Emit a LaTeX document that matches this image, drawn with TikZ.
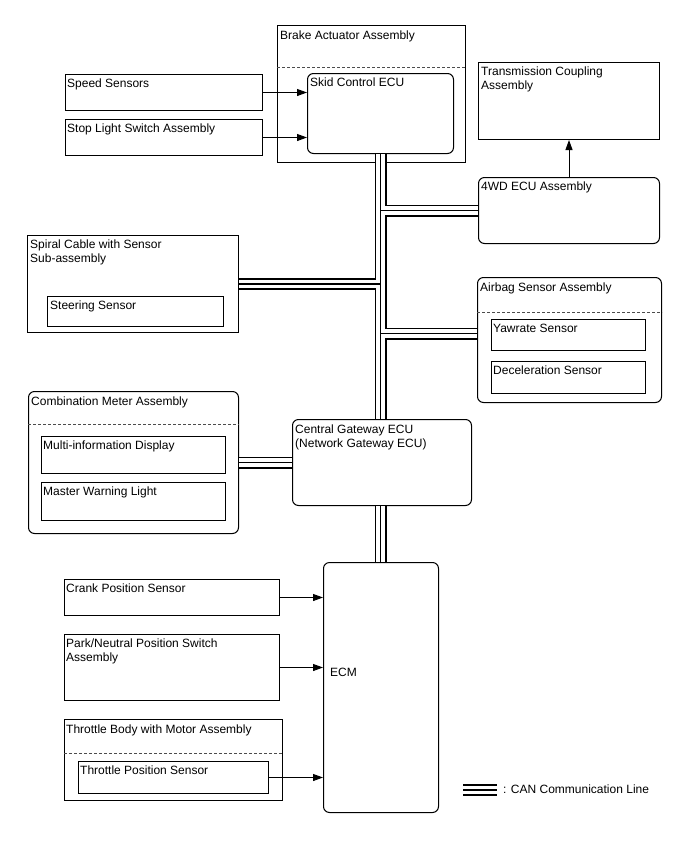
\documentclass[tikz,border=0pt]{standalone}
\usepackage{fontspec}
\setmainfont{Liberation Sans}
\usepackage{tikz}
\usetikzlibrary{arrows.meta,positioning}

\begin{document}
\begin{tikzpicture}[
    x=1pt, y=-1pt,
    blk/.style={draw, line width=1pt, anchor=north west, inner sep=0pt},
    rblk/.style={blk, rounded corners=6pt},
    lbl/.style={anchor=north west, inner sep=0pt, align=left, font=\fontsize{12}{14}\selectfont},
    dsh/.style={line width=0.8pt, black!70, dash pattern=on 3pt off 2pt},
    sig/.style={line width=1pt, -{Triangle[length=10pt,width=7pt]}},
    canA/.style={line width=12pt},
    canB/.style={line width=8.4pt, white},
    canC/.style={line width=1.3pt}]
  \useasboundingbox (0,0) rectangle (688,852);

  % brake actuator and its inputs
  \node[blk, minimum width=188, minimum height=137] (brake) at (277,25) {};
  \node[lbl] (brakelbl) at ([shift={(3,6)}]brake.north west) {Brake Actuator Assembly};
  \draw[dsh] (brake.west |- 0,67) -- (brake.east |- 0,67);
  \node[rblk, minimum width=146, minimum height=80] (skid) at (307,73) {};
  \node[lbl] (skidlbl) at ([shift={(3,5)}]skid.north west) {Skid Control ECU};

  \node[blk, minimum width=197, minimum height=36] (speed) at (65,74) {};
  \node[lbl] (speedlbl) at ([shift={(2,5)}]speed.north west) {Speed Sensors};
  \node[blk, minimum width=197, minimum height=36] (stop) at (65,119) {};
  \node[lbl] (stoplbl) at ([shift={(2,5)}]stop.north west) {Stop Light Switch Assembly};

  % 4WD side
  \node[blk, minimum width=181, minimum height=77] (trans) at (478,62) {};
  \node[lbl] (translbl) at ([shift={(3,5)}]trans.north west) {Transmission Coupling\\Assembly};
  \node[rblk, minimum width=181, minimum height=66] (fwd) at (478,177) {};
  \node[lbl] (fwdlbl) at ([shift={(3,5)}]fwd.north west) {4WD ECU Assembly};

  % spiral cable
  \node[blk, minimum width=211, minimum height=97] (spiral) at (27,235) {};
  \node[lbl] (spirallbl) at ([shift={(3,5)}]spiral.north west) {Spiral Cable with Sensor\\Sub-assembly};
  \node[blk, minimum width=176, minimum height=30] (steer) at (47,296) {};
  \node[lbl] (steerlbl) at ([shift={(3,5)}]steer.north west) {Steering Sensor};

  % airbag sensor
  \node[rblk, minimum width=184, minimum height=125] (airbag) at (477,277) {};
  \node[lbl] (airbaglbl) at ([shift={(3,6)}]airbag.north west) {Airbag Sensor Assembly};
  \draw[dsh] (airbag.west |- 0,312) -- (airbag.east |- 0,312);
  \node[blk, minimum width=154, minimum height=31] (yaw) at (491,319) {};
  \node[lbl] (yawlbl) at ([shift={(2,5)}]yaw.north west) {Yawrate Sensor};
  \node[blk, minimum width=154, minimum height=32] (decel) at (491,361) {};
  \node[lbl] (decellbl) at ([shift={(2,5)}]decel.north west) {Deceleration Sensor};

  % combination meter and gateway
  \node[rblk, minimum width=210, minimum height=142] (comb) at (28,391) {};
  \node[lbl] (comblbl) at ([shift={(3,6)}]comb.north west) {Combination Meter Assembly};
  \draw[dsh] (comb.west |- 0,424) -- (comb.east |- 0,424);
  \node[blk, minimum width=184, minimum height=37] (mid) at (41,436) {};
  \node[lbl] (midlbl) at ([shift={(2,5)}]mid.north west) {Multi-information Display};
  \node[blk, minimum width=184, minimum height=38] (mwl) at (41,482) {};
  \node[lbl] (mwllbl) at ([shift={(2,5)}]mwl.north west) {Master Warning Light};

  \node[rblk, minimum width=179, minimum height=86] (gw) at (292,419) {};
  \node[lbl] (gwlbl) at ([shift={(3,6)}]gw.north west) {Central Gateway ECU\\(Network Gateway ECU)};

  % engine side
  \node[rblk, minimum width=115, minimum height=250] (ecm) at (323,562) {};
  \node[lbl, anchor=west] (ecmlbl) at ([shift={(7,-15)}]ecm.west) {ECM};
  \node[blk, minimum width=215, minimum height=36] (crank) at (64,579) {};
  \node[lbl] (cranklbl) at ([shift={(2,5)}]crank.north west) {Crank Position Sensor};
  \node[blk, minimum width=215, minimum height=66] (park) at (64,634) {};
  \node[lbl] (parklbl) at ([shift={(2,5)}]park.north west) {Park/Neutral Position Switch\\Assembly};
  \node[blk, minimum width=218, minimum height=81] (thr) at (64,719) {};
  \node[lbl] (thrlbl) at ([shift={(2,6)}]thr.north west) {Throttle Body with Motor Assembly};
  \draw[dsh] (thr.west |- 0,753) -- (thr.east |- 0,753);
  \node[blk, minimum width=190, minimum height=32] (tps) at (78,761) {};
  \node[lbl] (tpslbl) at ([shift={(2,5)}]tps.north west) {Throttle Position Sensor};

  % signal lines
  \draw[sig] (speed.east) -- (speed.east -| skid.west);
  \draw[sig] (stop.east) -- (stop.east -| skid.west);
  \draw[sig] (fwd.north) -- (trans.south);
  \draw[sig] (crank.east) -- (crank.east -| ecm.west);
  \draw[sig] (park.east) -- (park.east -| ecm.west);
  \draw[sig] (tps.east) -- (tps.east -| ecm.west);

  % CAN bus, drawn in three passes
  \coordinate (airin) at ([yshift=6.5pt]airbag.west);
  \coordinate (lgA) at (463,790);
  \coordinate (lgB) at (497,790);
  \foreach \st in {canA,canB,canC}
    \draw[\st] (skid.south) -- (skid.south |- gw.north)
      (skid.south |- fwd.west) -- (fwd.west)
      (skid.south |- spiral.east) -- (spiral.east)
      (skid.south |- airin) -- (airin)
      (comb.east) -- (gw.west)
      (skid.south |- gw.south) -- (skid.south |- ecm.north)
      (lgA) -- (lgB);
  \node[lbl, anchor=west] (lgtxt) at (503,789) {: CAN Communication Line};
\end{tikzpicture}
\end{document}
